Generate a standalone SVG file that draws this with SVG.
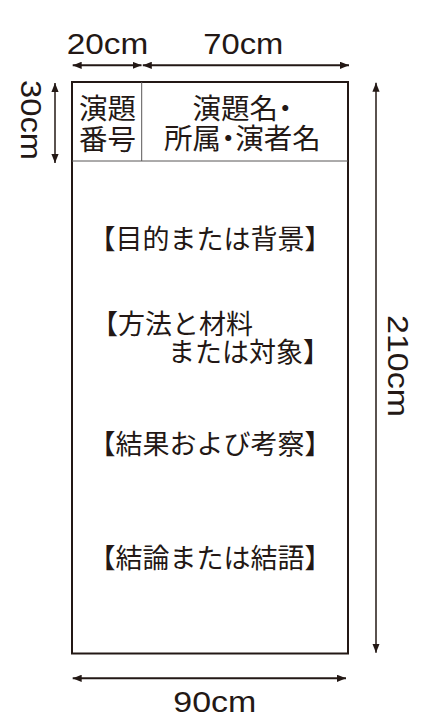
<svg xmlns="http://www.w3.org/2000/svg" width="429" height="719" viewBox="0 0 429 719">
<style>
.dim{font-family:"Liberation Sans",Arial,sans-serif;font-size:29.5px;fill:#231815}
.jp{font-family:"Noto Sans CJK JP","Noto Sans CJK SC",sans-serif;fill:#231815}
.hd{font-size:28.5px;font-feature-settings:"palt"}
.bd{font-size:27px}
.dl{stroke:#231815;fill:none}
</style>
<defs>
<marker id="ah" viewBox="0 0 10 8" refX="10" refY="4" markerWidth="9" markerHeight="7.5" markerUnits="userSpaceOnUse" orient="auto-start-reverse">
<path d="M0,0 L10,4 L0,8 z" fill="#231815"/>
</marker>
</defs>
<rect width="429" height="719" fill="#ffffff"/>
<g id="poster">
<rect x="72" y="82" width="276" height="571.5" fill="none" stroke="#231815" stroke-width="2"/>
<line x1="72" y1="161" x2="348" y2="161" stroke="#595757" stroke-width="1"/>
<line x1="141.7" y1="82" x2="141.7" y2="161" stroke="#595757" stroke-width="1"/>
</g>
<g id="header-number">
<text class="jp hd" text-anchor="middle"><tspan x="107.5" y="118.6">演題</tspan><tspan x="107.5" y="149.7">番号</tspan></text>
</g>
<g id="header-title">
<text class="jp hd" text-anchor="middle"><tspan x="242.5" y="119">演題名・</tspan><tspan x="242.5" y="149">所属・演者名</tspan></text>
</g>
<g id="sec1"><text class="jp bd" x="210" y="248.5" text-anchor="middle">【目的または背景】</text></g>
<g id="sec2">
<text class="jp bd"><tspan x="91" y="334" text-anchor="start">【方法と材料</tspan><tspan x="330" y="361.5" text-anchor="end">または対象】</tspan></text>
</g>
<g id="sec3"><text class="jp bd" x="210" y="453.5" text-anchor="middle">【結果および考察】</text></g>
<g id="sec4"><text class="jp bd" x="210" y="567.5" text-anchor="middle">【結論または結語】</text></g>
<g id="connectors">
<line class="dl" x1="72.7" y1="65.3" x2="141.5" y2="65.3" stroke-width="2" marker-start="url(#ah)" marker-end="url(#ah)"/>
<line class="dl" x1="142.8" y1="65.3" x2="349" y2="65.3" stroke-width="2" marker-start="url(#ah)" marker-end="url(#ah)"/>
<line class="dl" x1="55" y1="83" x2="55" y2="163" stroke-width="1.5" marker-start="url(#ah)" marker-end="url(#ah)"/>
<line class="dl" x1="376" y1="82.7" x2="376" y2="652.7" stroke-width="1.5" marker-start="url(#ah)" marker-end="url(#ah)"/>
<line class="dl" x1="72.7" y1="678.3" x2="346" y2="678.3" stroke-width="2" marker-start="url(#ah)" marker-end="url(#ah)"/>
</g>
<g id="labels">
<text class="dim" x="66.7" y="54" textLength="81.5" lengthAdjust="spacingAndGlyphs">20cm</text>
<text class="dim" x="203.3" y="54" textLength="80" lengthAdjust="spacingAndGlyphs">70cm</text>
<text class="dim" x="173.3" y="711.7" textLength="83" lengthAdjust="spacingAndGlyphs">90cm</text>
<text class="dim" transform="translate(20.5,80) rotate(90)" x="0" y="0" textLength="80" lengthAdjust="spacingAndGlyphs">30cm</text>
<text class="dim" transform="translate(388,315) rotate(90)" x="0" y="0" textLength="102" lengthAdjust="spacingAndGlyphs">210cm</text>
</g>
</svg>
